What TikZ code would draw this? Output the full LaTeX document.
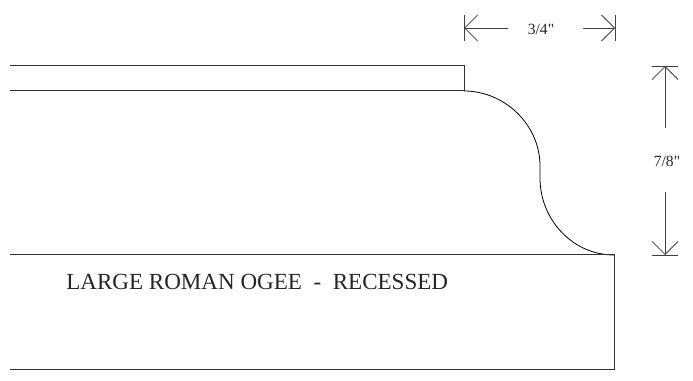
\documentclass[tikz,border=0pt]{standalone}
\usepackage{fontspec}
\newfontfamily\plainserif{Liberation Serif}
\usetikzlibrary{arrows.meta}
\tikzset{ln/.style={draw=black!80,line width=0.75pt},
crv/.style={draw=black,line width=0.6pt},
dimln/.style={draw=black!75,line width=0.6pt},
dimtip/.style={-{Straight Barb[length=9.75pt,width=19.5pt,line width=0.6pt]},draw=black!75,line width=0.6pt},
lbl/.style={inner sep=0pt,text=black!85,font=\plainserif\fontsize{11.7pt}{14pt}\selectfont}}
\begin{document}
\begin{tikzpicture}[x=0.75pt,y=-0.75pt]
\useasboundingbox (0,0) rectangle (693,381);
\draw[ln] (10,66) -- (464,66) -- (464,91) -- (10,91);
\draw[crv] (464,91) .. controls (505,91) and (540,125) .. (540,166) -- (540,178) .. controls (540,220) and (573,255) .. (614,255);
\draw[ln] (10,255) -- (614,255) -- (614,369) -- (10,369);
\draw[dimln] (464,15) -- (464,41);
\draw[dimln] (615,15) -- (615,41);
\draw[dimln] (652,66) -- (678,66);
\draw[dimln] (652,255) -- (678,255);
\coordinate (a1) at (508,28); \coordinate (a2) at (464,28);
\coordinate (b1) at (583,28); \coordinate (b2) at (615,28);
\coordinate (c1) at (665,128); \coordinate (c2) at (665,66);
\coordinate (d1) at (665,192); \coordinate (d2) at (665,255);
\draw[dimtip] (a1) -- (a2);
\draw[dimtip] (b1) -- (b2);
\draw[dimtip] (c1) -- (c2);
\draw[dimtip] (d1) -- (d2);
\node[lbl] (w) at (541,29) {3/4"};
\node[lbl] (h) at (667,161) {7/8"};
\node[inner sep=0pt,text=black!85,font=\plainserif\fontsize{17.3pt}{20pt}\selectfont,anchor=west] (t) at (66,282) {LARGE ROMAN OGEE\ \ -\ \ RECESSED};
\end{tikzpicture}
\end{document}
